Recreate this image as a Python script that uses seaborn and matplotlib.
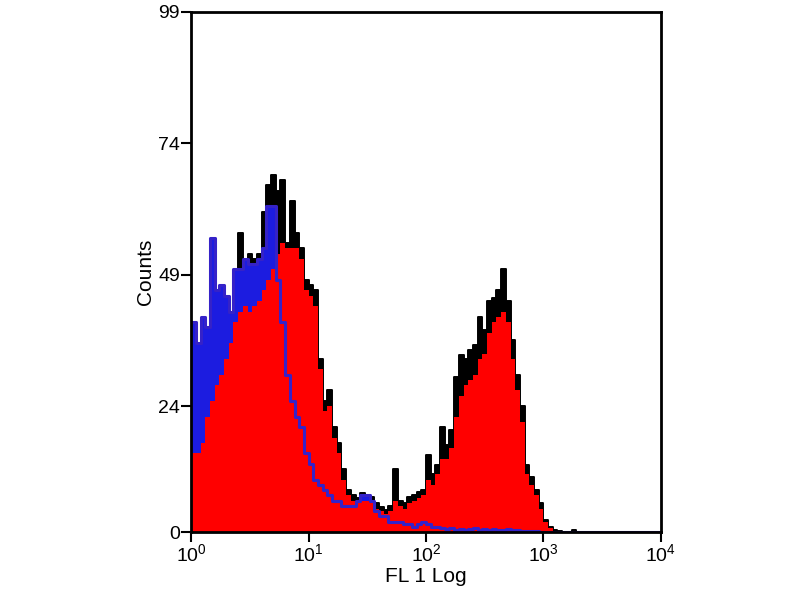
import numpy as np
import pandas as pd
import matplotlib
matplotlib.use('Agg')
import matplotlib.pyplot as plt
import seaborn as sns

# FL1 histogram, 25 channels per decade from 10^0 to 10^4
n_bins = 100
decades = [0, 1, 2, 3, 4]
tick_labels = [r'$\mathregular{10^{0}}$', r'$\mathregular{10^{1}}$', r'$\mathregular{10^{2}}$',
               r'$\mathregular{10^{3}}$', r'$\mathregular{10^{4}}$']
y_ticks = [0, 24, 49, 74, 99]

# stained sample, spiky envelope (black)
sample_peak = [24, 22, 25, 28, 33, 31, 34, 37, 38, 47,
               57, 52, 53, 52, 53, 61, 66, 68, 65, 67,
               55, 63, 57, 54, 48, 47, 46, 33, 25, 27,
               20, 17, 12, 8, 7, 6.5, 7.5, 7, 6.7, 5.5,
               4.8, 4.2, 5, 12, 6, 5.5, 6.7, 7, 7.6, 8,
               14.7, 11, 12.8, 20, 16.6, 19.4, 29.5, 33.7, 33, 34.7,
               35.6, 41, 38.5, 44, 44.6, 46, 50, 44, 36.6, 30,
               24, 12.8, 10.5, 8, 5.5, 2.3, 1, 0.5, 0.3, 0,
               0, 0.5] + [0] * 18

# stained sample, smoothed body (red fill)
sample_body = [15, 15, 17, 22, 25, 28, 30, 33, 36, 40,
               42, 43, 42, 43, 44, 46, 48, 50, 53, 55,
               54, 54, 54, 52, 46, 45, 43, 31, 23, 24,
               18, 15, 10, 7, 6, 5.5, 6, 6, 5.5, 4.5,
               4, 3.5, 4, 6, 5, 4.5, 5.5, 6, 6.5, 7,
               10, 9, 11, 14, 14, 16, 22, 26, 28, 29,
               30, 33, 34, 38, 40, 41, 42, 40, 33, 27,
               21, 11, 9, 7, 4.5, 2, 0.8, 0.3] + [0] * 22

# isotype control (blue)
control = [40, 36, 41, 39, 56, 46, 47, 45, 42, 50,
           50, 52, 51, 51, 52, 54, 62, 62, 48, 40,
           30, 25, 22, 20, 15, 13, 10, 9, 8, 7,
           6, 6, 5, 5, 5, 6, 7, 7, 6, 4,
           3, 3, 2, 2, 2, 1.5, 1.5, 1, 1.5, 2,
           1.5, 1, 1, 0.8, 0.6, 0.8, 0.5, 0.7, 0.5, 0.6,
           0.8, 0.5, 0.6, 0.5, 0.7, 0.5, 0.4, 0.6, 0.5, 0.4,
           0.3, 0.3, 0.2, 0.2, 0.1, 0.1] + [0] * 24

channel = (np.arange(n_bins) + 0.5) * 4 / n_bins  # log10 channel centres
df = pd.DataFrame({'log_fl1': channel, 'peak': sample_peak,
                   'body': sample_body, 'control': control})

sns.set_style('white')
plt.rcParams['font.family'] = ['Liberation Sans', 'DejaVu Sans']
plt.rcParams['mathtext.fontset'] = 'custom'
plt.rcParams['mathtext.rm'] = 'Liberation Sans'
plt.rcParams['text.color'] = 'black'
plt.rcParams['axes.labelcolor'] = 'black'
plt.rcParams['xtick.color'] = 'black'
plt.rcParams['ytick.color'] = 'black'

fig = plt.figure(figsize=(8, 6), dpi=100)
ax = fig.add_axes([0.239, 0.113, 0.587, 0.867])

hist_kw = dict(data=df, x='log_fl1', bins=n_bins, binrange=(0, 4), element='step', ax=ax)
sns.histplot(weights='peak', fill=True, color='black', alpha=1, linewidth=1.4,
             edgecolor='black', **hist_kw)
sns.histplot(weights='control', fill=True, color='#1c1ce0', alpha=1, linewidth=0, **hist_kw)
sns.histplot(weights='body', fill=True, color='#ff0000', alpha=1, linewidth=0, **hist_kw)
sns.histplot(weights='control', fill=False, color='#3522c8', linewidth=2.2, **hist_kw)

ax.set_xlim(0, 4)
ax.set_ylim(0, 99)
ax.set_xticks(decades)
ax.set_xticklabels(tick_labels)
ax.set_yticks(y_ticks)
ax.set_xlabel('FL 1 Log', fontsize=15, labelpad=1)
ax.set_ylabel('Counts', fontsize=15, labelpad=2)
ax.tick_params(axis='both', direction='out', length=7, width=1.5, color='black',
               labelcolor='black', labelsize=14, pad=1, left=True, bottom=True)
for side in ['left', 'right', 'top', 'bottom']:
    ax.spines[side].set_visible(True)
    ax.spines[side].set_color('black')
    ax.spines[side].set_linewidth(2)
ax.grid(False)

fig.savefig('out.png', dpi=100)
